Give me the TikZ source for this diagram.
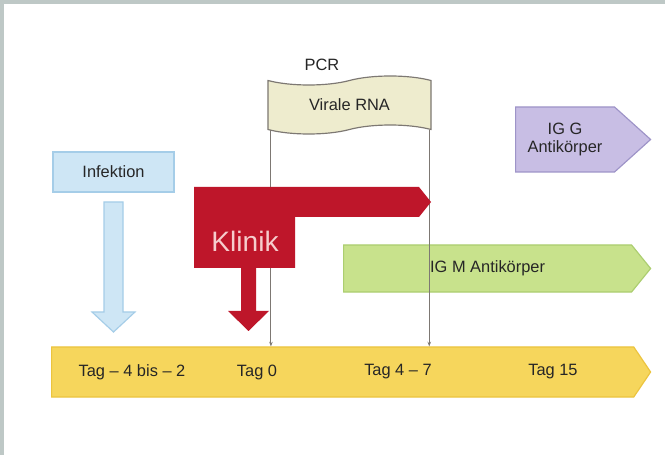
\documentclass[tikz,border=0pt]{standalone}
\usepackage{fontspec}
\setmainfont{Liberation Sans}
\usetikzlibrary{shapes.symbols, arrows.meta, positioning}
\definecolor{timeyellow}{RGB}{246,214,92}
\definecolor{timeedge}{RGB}{236,196,62}
\definecolor{igmgreen}{RGB}{200,226,140}
\definecolor{igmedge}{RGB}{172,206,112}
\definecolor{iggpurple}{RGB}{200,190,228}
\definecolor{iggedge}{RGB}{158,148,200}
\definecolor{klinikred}{RGB}{190,22,42}
\definecolor{infblue}{RGB}{206,230,245}
\definecolor{infedge}{RGB}{165,205,232}
\definecolor{rnabeige}{RGB}{238,236,206}
\definecolor{lineGray}{RGB}{125,120,115}
\definecolor{photoedge}{RGB}{190,200,198}

\begin{document}
\begin{tikzpicture}[x=0.03cm, y=-0.03cm,
    daytext/.style={font=\fontsize{14}{16}\selectfont, text=black!85},
    stagebox/.style={rectangle, draw=infedge, fill=infblue, line width=1pt, minimum width=3.63cm, minimum height=1.2cm, daytext},
    period/.style={signal, signal to=east, anchor=west, line width=1pt, inner sep=0pt, daytext},
    pcrline/.style={draw=lineGray, line width=0.8pt, -{Stealth[length=4pt]}}
    ]
    % background
    \fill[white] (0,0) rectangle (665,455);
    \fill[photoedge] (0,0) rectangle (665,4);
    \fill[photoedge] (0,0) rectangle (4,455);

    % time line
    \node[period, draw=timeedge, fill=timeyellow, minimum width=17.97cm, minimum height=1.5cm, signal pointer angle=112] (tl) at (51,372) {};
    \node[daytext] (tagA) at (132,372) {Tag – 4 bis – 2};
    \node[daytext] (tagB) at (257,372) {Tag 0};
    \node[daytext] (tagC) at (398,372) {Tag 4 – 7};
    \node[daytext] (tagD) at (553,372) {Tag 15};

    % antibodies
    \node[period, draw=igmedge, fill=igmgreen, minimum width=9.21cm, minimum height=1.41cm, signal pointer angle=102] (igm) at (343,268.5) {IG M Antikörper};
    \node[period, draw=iggedge, fill=iggpurple, minimum width=4.05cm, minimum height=1.95cm, signal pointer angle=84, align=center] (igg) at (515,139.5) {IG G\\Antikörper};

    % PCR
    \node[tape, draw=lineGray, fill=rnabeige, line width=1pt, minimum width=4.89cm, minimum height=1.74cm, tape bend height=0.27cm, daytext] (rna) at (349.5,105) {Virale RNA};
    \node[daytext] (pcr) at (322,65) {PCR};
    \draw[pcrline] ([xshift=3pt]rna.south west) -- ([xshift=3pt]rna.south west |- tl.north);
    \draw[pcrline] ([xshift=-2pt]rna.south east) -- ([xshift=-2pt]rna.south east |- tl.north);

    % infection
    \node[stagebox] (inf) at (113.5,172) {Infektion};
    \draw[draw=infedge, fill=infblue, line width=1pt]
        (104,202) -- (123,202) -- (123,312) -- (135,312) -- (113.5,332)
        -- (92,312) -- (104,312) -- cycle;

    % clinic
    \fill[klinikred]
        (194,187) -- (419,187) -- (431,202) -- (419,217) -- (295,217) -- (295,268)
        -- (256,268) -- (256,311) -- (269,311) -- (248.5,331) -- (228,311)
        -- (241,311) -- (241,268) -- (194,268) -- cycle;
    \node[font=\fontsize{24}{28}\selectfont, text={rgb,255:red,246;green,205;blue,205}] (klinik) at (245,241) {Klinik};
\end{tikzpicture}
\end{document}
